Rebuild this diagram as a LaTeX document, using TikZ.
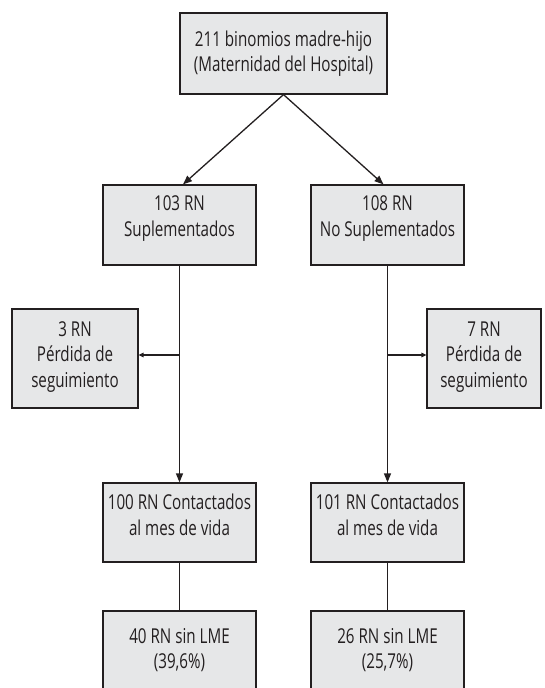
\documentclass[tikz,border=0pt]{standalone}
\usepackage{fontspec}
\setmainfont{Open Sans}[FakeStretch=0.74]
\usetikzlibrary{arrows.meta,calc}
\definecolor{boxfill}{HTML}{E6E7E8}
\definecolor{ink}{HTML}{231F20}
\begin{document}
\begin{tikzpicture}[x=1pt,y=-1pt,
  box/.style={draw=ink,fill=boxfill,line width=1.2pt,inner sep=0pt},
  txt/.style={align=center,text=ink,font=\fontsize{20.5}{25.5}\selectfont,inner sep=0pt},
  conn/.style={draw=ink,line width=1.3pt},
  arr/.style={conn,-{Triangle[length=9pt,width=7pt]}},
  sarr/.style={conn,-{Triangle[length=5pt,width=4.5pt]}}]
\useasboundingbox (0,0) rectangle (544,688);
% boxes
\node[box,minimum width=207pt,minimum height=81pt] (top) at (283.5,53.5) {};
\node[txt] (ttop) at (283.5,53.5) {211 binomios madre-hijo\\(Maternidad del Hospital)};
\node[box,minimum width=153pt,minimum height=80pt] (b103) at (179.5,225) {};
\node[txt] (t103) at (179.5,218.5) {103 RN\\Suplementados};
\node[box,minimum width=153pt,minimum height=80pt] (b108) at (387.5,225) {};
\node[txt] (t108) at (387.5,218.5) {108 RN\\No Suplementados};
\node[box,minimum width=126pt,minimum height=99pt] (l3) at (75,358.5) {};
\node[txt] (tl3) at (75,357) {3 RN\\Pérdida de\\seguimiento};
\node[box,minimum width=114pt,minimum height=99pt] (r7) at (484,358.5) {};
\node[txt] (tr7) at (484,357) {7 RN\\Pérdida de\\seguimiento};
\node[box,minimum width=153pt,minimum height=79pt] (b100) at (179.5,522.5) {};
\node[txt] (t100) at (179.5,515) {100 RN Contactados\\al mes de vida};
\node[box,minimum width=153pt,minimum height=79pt] (b101) at (387.5,522.5) {};
\node[txt] (t101) at (387.5,515) {101 RN Contactados\\al mes de vida};
\node[box,minimum width=153pt,minimum height=79pt] (b40) at (179.5,650.5) {};
\node[txt] (t40) at (179.5,650) {40 RN sin LME\\(39,6\%)};
\node[box,minimum width=153pt,minimum height=79pt] (b26) at (387.5,650.5) {};
\node[txt] (t26) at (387.5,650) {26 RN sin LME\\(25,7\%)};
% connectors
\draw[arr] (top.south) -- ([xshift=3.5pt]b103.north);
\draw[arr] (top.south) -- ([xshift=-4pt]b108.north);
\draw[arr] (b103.south) -- (b100.north);
\draw[arr] (b108.south) -- (b101.north);
\coordinate (cl) at (179.5,355);
\coordinate (cr) at (387.5,355);
\draw[sarr] (cl) -- (l3.east |- cl);
\draw[sarr] (cr) -- (r7.west |- cr);
\draw[conn] (b100.south) -- (b40.north);
\draw[conn] (b101.south) -- (b26.north);
\end{tikzpicture}
\end{document}
